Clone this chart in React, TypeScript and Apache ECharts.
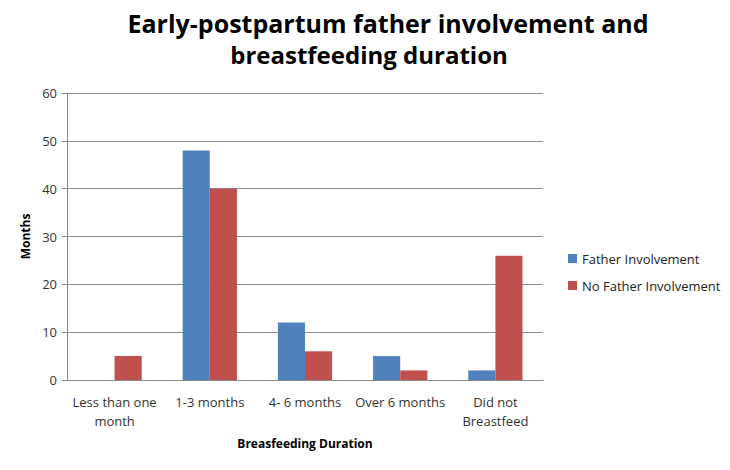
import React, { useEffect, useRef } from "react";
import * as echarts from "echarts";

const categories = ["Less than one\nmonth", "1-3 months", "4- 6 months", "Over 6 months", "Did not\nBreastfeed"];
const fatherInvolvement = [0, 48, 12, 5, 2];
const noFatherInvolvement = [5, 40, 6, 2, 26];
const seriesNames = ["Father Involvement", "No Father Involvement"];
const titleLines = ["Early-postpartum father involvement and", "breastfeeding duration"];

export default function App() {
  const ref = useRef<HTMLDivElement>(null);
  useEffect(() => {
    if (!ref.current) return;
    const chart = echarts.init(ref.current, undefined, { renderer: "svg" });
    const font = "'Open Sans', 'DejaVu Sans', sans-serif";
    const titleStyle = {
      fontFamily: font,
      fontWeight: "bold",
      fontSize: 25,
      color: "#000",
    };
    chart.setOption({
      animation: false,
      backgroundColor: "#ffffff",
      title: [
        { text: titleLines[0], left: 388, top: 10, textAlign: "center", padding: 0, textStyle: titleStyle },
        { text: titleLines[1], left: 369, top: 42, textAlign: "center", padding: 0, textStyle: { ...titleStyle, fontSize: 24 } },
      ],
      legend: {
        orient: "vertical",
        left: 563,
        top: 247,
        itemWidth: 9,
        itemHeight: 9,
        itemGap: 14,
        icon: "rect",
        data: seriesNames,
        textStyle: { fontFamily: font, fontSize: 13, color: "#222" },
      },
      grid: { left: 67, right: 187, top: 93, bottom: 90, containLabel: false },
      xAxis: {
        type: "category",
        data: categories,
        name: "Breasfeeding Duration",
        nameLocation: "middle",
        nameGap: 57,
        nameTextStyle: { fontFamily: font, fontWeight: "bold", fontSize: 12, color: "#000" },
        axisLine: { lineStyle: { color: "#888" } },
        axisTick: { show: false },
        axisLabel: { fontFamily: font, fontSize: 13, color: "#333", margin: 12, lineHeight: 19, interval: 0 },
      },
      yAxis: {
        type: "value",
        min: 0,
        max: 60,
        interval: 10,
        name: "Months",
        nameLocation: "middle",
        nameGap: 36,
        nameRotate: 90,
        nameTextStyle: { fontFamily: font, fontWeight: "bold", fontSize: 12, color: "#000" },
        axisLine: { show: true, lineStyle: { color: "#888" } },
        axisTick: { show: true, length: 5, lineStyle: { color: "#888" } },
        axisLabel: { fontFamily: font, fontSize: 13, color: "#333", margin: 10 },
        splitLine: { lineStyle: { color: "#8c8c8c", width: 1 } },
      },
      series: [
        {
          name: seriesNames[0],
          type: "bar",
          data: fatherInvolvement,
          itemStyle: { color: "#4F81BD" },
          barGap: "0%",
          barCategoryGap: "43%",
        },
        {
          name: seriesNames[1],
          type: "bar",
          data: noFatherInvolvement,
          itemStyle: { color: "#C0504D" },
          barGap: "0%",
          barCategoryGap: "43%",
        },
      ],
    });
    return () => chart.dispose();
  }, []);
  return <div ref={ref} style={{ width: 730, height: 470, position: "absolute", left: 0, top: 0 }} />;
}
